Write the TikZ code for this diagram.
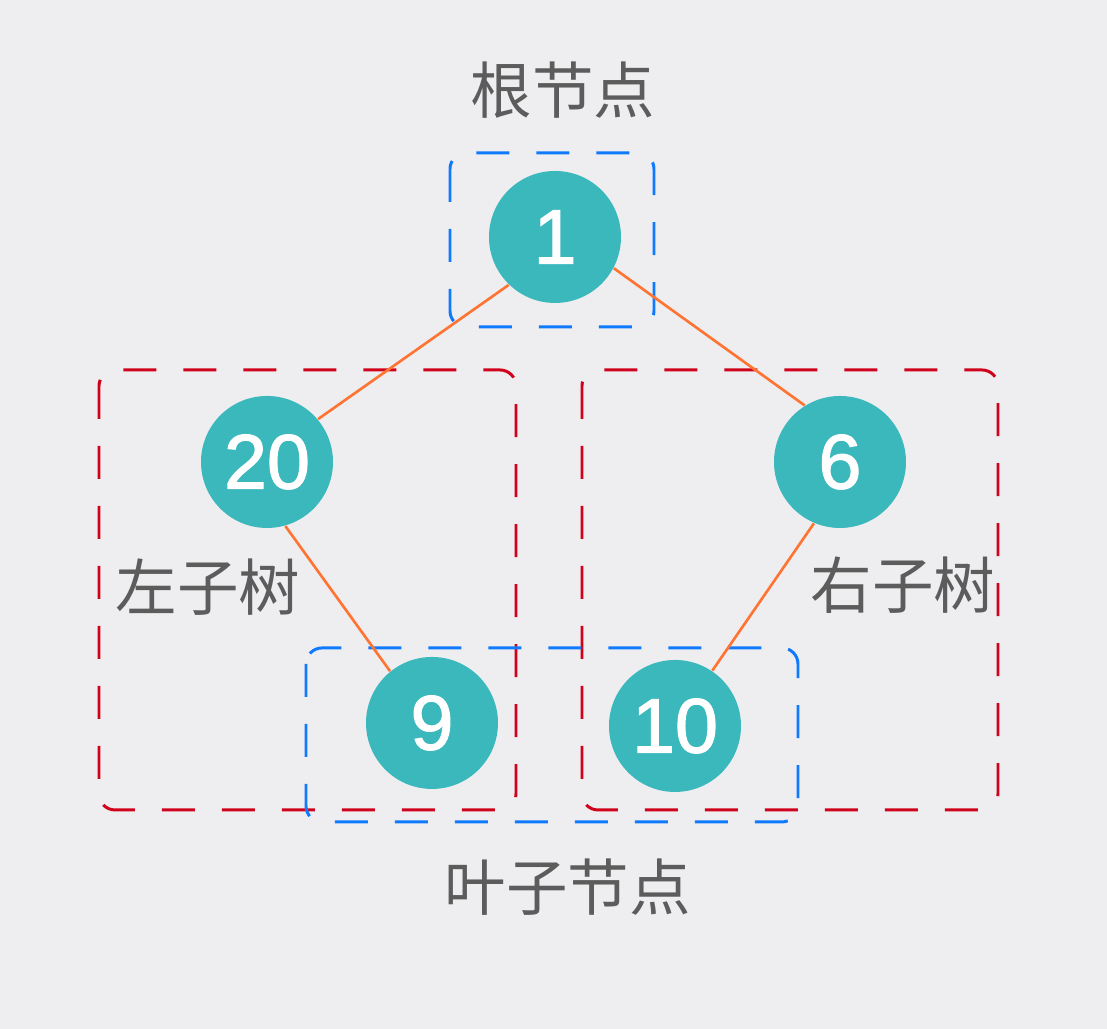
\documentclass[tikz,border=0pt]{standalone}
\usepackage{fontspec}
\setmainfont{Liberation Sans}
\newfontfamily\cjk{Noto Sans CJK SC}
\newfontfamily\numfont[FakeBold=1.6]{Liberation Sans}
\usepackage{xcolor}
\usepackage{tikz}
\usetikzlibrary{positioning}
\definecolor{bgc}{RGB}{238, 238, 240}
\definecolor{teal}{RGB}{58, 184, 188}
\definecolor{edg}{RGB}{255, 116, 51}
\definecolor{tree}{RGB}{208, 2, 27}
\definecolor{lvl}{RGB}{16, 122, 255}
\definecolor{txt}{RGB}{92, 92, 92}

\begin{document}
\begin{tikzpicture}[
    vertex/.style={circle, fill=teal, minimum size=1.32cm, inner sep=0pt,
      text=white, font=\numfont\fontsize{22}{22}\selectfont},
    link/.style={edg, line width=0.75pt},
    frame/.style={draw=#1, line width=0.85pt, rounded corners=0.16cm,
      dash pattern=on 0.33cm off 0.27cm},
    lbl/.style={text=txt, font=\cjk\fontsize{17.5}{20}\selectfont}
  ]
  \fill[bgc] (0,0) rectangle (11.07,10.29);
  % dashed groups
  \draw[frame=lvl] (4.50,8.76) rectangle (6.54,7.02);
  \draw[frame=tree] (0.99,6.59) rectangle (5.16,2.19);
  \draw[frame=tree] (5.82,6.59) rectangle (9.98,2.19);
  \draw[frame=lvl] (3.06,3.81) rectangle (7.98,2.07);
  % tree nodes
  \node[vertex] (root) at (5.55,7.92) {1};
  \node[vertex] (lchild) at (2.67,5.67) {20};
  \node[vertex] (rchild) at (8.40,5.67) {6};
  \node[vertex] (lleaf) at (4.32,3.06) {9};
  \node[vertex] (rleaf) at (6.75,3.03) {10};
  \draw[link] (root.-134) -- (lchild.40);
  \draw[link] (root.-28) -- (rchild.122);
  \draw[link] (lchild.-74) -- (lleaf.129);
  \draw[link] (rchild.-113) -- (rleaf.56);
  % labels
  \node[lbl] (rootlbl) at (5.63,9.39) {根节点};
  \node[lbl] (leftlbl) at (2.08,4.42) {左子树};
  \node[lbl] (rightlbl) at (9.03,4.44) {右子树};
  \node[lbl] (leaflbl) at (5.68,1.42) {叶子节点};
\end{tikzpicture}
\end{document}
